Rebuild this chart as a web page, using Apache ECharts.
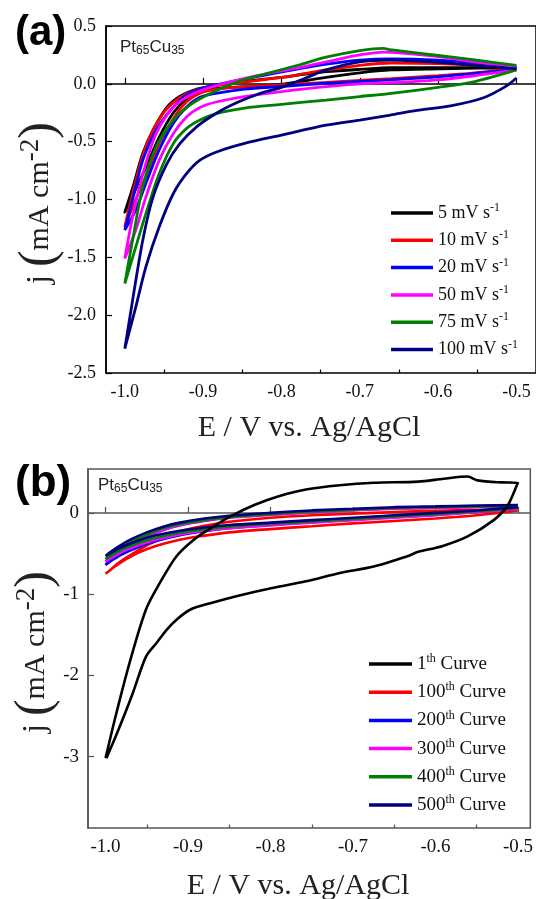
<!DOCTYPE html>
<html>
<head>
<meta charset="utf-8">
<script src="https://cdn.jsdelivr.net/npm/echarts@6/dist/echarts.min.js"></script>
<style>
body { margin: 0; background: #fff; overflow: hidden; }
#main { width: 536px; height: 899px; }
</style>
</head>
<body>
<div id="main"></div>
<script>
// (a) scan rates, (b) cycle numbers
var rateNames = ['5', '10', '20', '50', '75', '100'];
var cycleNums = ['1', '100', '200', '300', '400', '500'];
var lineColors = ['#000000', '#ff0000', '#0000ff', '#ff00ff', '#008000', '#000080'];

var xLabelsMajor = [-1.0, -0.9, -0.8, -0.7, -0.6, -0.5];
var xTicksMinor = [-0.95, -0.85, -0.75, -0.65, -0.55];
var yLabelsB = [-3, -2, -1, 0];

// (a) CV loops, [E, j]: cathodic branch -0.5 -> -1.0, then anodic back
var a5 = [[-0.50,0.135],[-0.55,0.135],[-0.60,0.13],[-0.66,0.12],[-0.70,0.095],[-0.743,0.055],[-0.78,0.015],[-0.80,-0.005],[-0.847,-0.025],[-0.882,-0.04],[-0.904,-0.07],[-0.921,-0.13],[-0.938,-0.25],[-0.956,-0.46],[-0.973,-0.72],[-0.986,-0.91],[-1.0,-1.11],
  [-0.99,-0.90],[-0.977,-0.60],[-0.964,-0.40],[-0.947,-0.21],[-0.93,-0.11],[-0.908,-0.045],[-0.882,-0.01],[-0.856,0.015],[-0.83,0.035],[-0.80,0.055],[-0.769,0.085],[-0.743,0.105],[-0.70,0.125],[-0.66,0.14],[-0.60,0.14],[-0.553,0.14],[-0.50,0.135]];
var a10 = [[-0.50,0.135],[-0.553,0.095],[-0.60,0.07],[-0.66,0.045],[-0.70,0.03],[-0.743,0.012],[-0.80,-0.01],[-0.847,-0.025],[-0.882,-0.045],[-0.904,-0.08],[-0.921,-0.155],[-0.938,-0.30],[-0.956,-0.515],[-0.973,-0.80],[-0.986,-1.0],[-1.0,-1.236],
  [-0.99,-0.95],[-0.977,-0.62],[-0.964,-0.40],[-0.947,-0.22],[-0.93,-0.12],[-0.908,-0.05],[-0.882,-0.015],[-0.856,0.01],[-0.83,0.03],[-0.80,0.055],[-0.769,0.09],[-0.743,0.12],[-0.70,0.16],[-0.66,0.18],[-0.60,0.175],[-0.553,0.16],[-0.50,0.14]];
var a20 = [[-0.50,0.125],[-0.553,0.09],[-0.60,0.06],[-0.66,0.035],[-0.70,0.02],[-0.743,0.005],[-0.80,-0.023],[-0.847,-0.045],[-0.882,-0.08],[-0.904,-0.117],[-0.921,-0.2],[-0.938,-0.34],[-0.956,-0.57],[-0.973,-0.86],[-0.986,-1.09],[-1.0,-1.265],
  [-0.99,-1.0],[-0.977,-0.66],[-0.960,-0.40],[-0.938,-0.20],[-0.917,-0.08],[-0.891,-0.02],[-0.856,0.03],[-0.821,0.075],[-0.778,0.13],[-0.743,0.17],[-0.70,0.205],[-0.661,0.215],[-0.60,0.205],[-0.553,0.18],[-0.50,0.14]];
var a50 = [[-0.50,0.12],[-0.553,0.07],[-0.60,0.035],[-0.66,0.01],[-0.70,0.0],[-0.743,-0.025],[-0.80,-0.068],[-0.847,-0.11],[-0.882,-0.155],[-0.904,-0.204],[-0.921,-0.285],[-0.938,-0.43],[-0.956,-0.66],[-0.973,-0.977],[-0.986,-1.265],[-1.0,-1.51],
  [-0.99,-1.15],[-0.977,-0.78],[-0.960,-0.43],[-0.938,-0.2],[-0.917,-0.1],[-0.891,-0.03],[-0.856,0.033],[-0.821,0.085],[-0.778,0.14],[-0.743,0.19],[-0.70,0.25],[-0.67,0.275],[-0.60,0.235],[-0.553,0.19],[-0.50,0.15]];
var a75 = [[-0.50,0.12],[-0.553,0.02],[-0.60,-0.03],[-0.66,-0.083],[-0.70,-0.11],[-0.743,-0.14],[-0.80,-0.178],[-0.847,-0.21],[-0.882,-0.256],[-0.904,-0.313],[-0.921,-0.385],[-0.938,-0.515],[-0.956,-0.775],[-0.973,-1.12],[-0.986,-1.41],[-1.0,-1.727],
  [-0.99,-1.35],[-0.977,-0.89],[-0.960,-0.544],[-0.938,-0.313],[-0.917,-0.184],[-0.891,-0.083],[-0.856,0.018],[-0.821,0.085],[-0.778,0.163],[-0.743,0.23],[-0.70,0.287],[-0.67,0.307],[-0.661,0.295],[-0.60,0.245],[-0.553,0.206],[-0.50,0.16]];
var a100 = [[-0.50,0.05],[-0.513,-0.02],[-0.542,-0.12],[-0.584,-0.19],[-0.627,-0.23],[-0.661,-0.27],[-0.70,-0.313],[-0.743,-0.357],[-0.80,-0.443],[-0.847,-0.515],[-0.882,-0.587],[-0.904,-0.66],[-0.921,-0.775],[-0.938,-0.948],[-0.956,-1.236],[-0.973,-1.58],[-0.986,-1.93],[-1.0,-2.29],
  [-0.99,-1.87],[-0.977,-1.35],[-0.964,-0.98],[-0.947,-0.70],[-0.93,-0.52],[-0.908,-0.37],[-0.882,-0.25],[-0.856,-0.16],[-0.83,-0.09],[-0.80,-0.03],[-0.769,0.05],[-0.743,0.12],[-0.70,0.19],[-0.661,0.205],[-0.60,0.185],[-0.553,0.16],[-0.50,0.13]];

// (b) cycling loops
var b1 = [[-1.0,-3.02],[-0.988,-2.51],[-0.971,-1.85],[-0.951,-1.19],[-0.934,-0.86],[-0.914,-0.534],[-0.893,-0.33],[-0.872,-0.185],[-0.848,-0.04],[-0.819,0.10],[-0.79,0.205],[-0.757,0.288],[-0.716,0.34],[-0.675,0.37],[-0.621,0.385],[-0.59,0.42],[-0.561,0.447],[-0.549,0.40],[-0.52,0.375],[-0.50,0.37],
  [-0.503,0.30],[-0.508,0.18],[-0.513,0.08],[-0.529,-0.086],[-0.561,-0.29],[-0.592,-0.41],[-0.621,-0.48],[-0.633,-0.53],[-0.675,-0.66],[-0.716,-0.74],[-0.757,-0.843],[-0.798,-0.925],[-0.839,-1.02],[-0.872,-1.11],[-0.897,-1.19],[-0.914,-1.315],[-0.926,-1.44],[-0.938,-1.60],[-0.951,-1.77],[-0.967,-2.22],[-0.986,-2.71],[-0.999,-3.02]];
var b100 = [[-0.5,0.03],[-0.55,-0.03],[-0.6,-0.07],[-0.65,-0.10],[-0.7,-0.13],[-0.75,-0.165],[-0.8,-0.20],[-0.85,-0.24],[-0.88,-0.28],[-0.91,-0.33],[-0.94,-0.41],[-0.96,-0.49],[-0.98,-0.60],[-0.99,-0.67],[-1.0,-0.75],
  [-0.995,-0.71],[-0.985,-0.62],[-0.97,-0.52],[-0.95,-0.40],[-0.93,-0.31],[-0.91,-0.23],[-0.88,-0.16],[-0.85,-0.11],[-0.80,-0.06],[-0.75,-0.03],[-0.70,-0.01],[-0.65,0.01],[-0.60,0.025],[-0.55,0.035],[-0.5,0.045]];
var b200 = [[-0.5,0.05],[-0.55,0.01],[-0.6,-0.025],[-0.65,-0.055],[-0.7,-0.085],[-0.75,-0.115],[-0.8,-0.15],[-0.85,-0.19],[-0.88,-0.225],[-0.91,-0.275],[-0.94,-0.35],[-0.96,-0.42],[-0.98,-0.51],[-0.99,-0.57],[-1.0,-0.64],
  [-0.995,-0.58],[-0.985,-0.50],[-0.97,-0.40],[-0.95,-0.29],[-0.93,-0.21],[-0.91,-0.15],[-0.88,-0.095],[-0.85,-0.055],[-0.80,-0.02],[-0.75,0.01],[-0.70,0.035],[-0.65,0.055],[-0.60,0.065],[-0.55,0.075],[-0.5,0.085]];
var b300 = [[-0.5,0.05],[-0.55,0.01],[-0.6,-0.03],[-0.65,-0.06],[-0.7,-0.09],[-0.75,-0.12],[-0.8,-0.155],[-0.85,-0.19],[-0.88,-0.22],[-0.91,-0.265],[-0.94,-0.335],[-0.96,-0.40],[-0.98,-0.48],[-0.99,-0.54],[-1.0,-0.60],
  [-0.995,-0.55],[-0.985,-0.48],[-0.97,-0.39],[-0.95,-0.29],[-0.93,-0.21],[-0.91,-0.155],[-0.88,-0.10],[-0.85,-0.06],[-0.80,-0.025],[-0.75,0.005],[-0.70,0.03],[-0.65,0.05],[-0.60,0.06],[-0.55,0.07],[-0.5,0.08]];
var b400 = [[-0.5,0.06],[-0.55,0.02],[-0.6,-0.015],[-0.65,-0.045],[-0.7,-0.075],[-0.75,-0.105],[-0.8,-0.135],[-0.85,-0.17],[-0.88,-0.20],[-0.91,-0.245],[-0.94,-0.31],[-0.96,-0.37],[-0.98,-0.45],[-0.99,-0.51],[-1.0,-0.57],
  [-0.995,-0.52],[-0.985,-0.45],[-0.97,-0.36],[-0.95,-0.27],[-0.93,-0.19],[-0.91,-0.14],[-0.88,-0.09],[-0.85,-0.05],[-0.80,-0.015],[-0.75,0.015],[-0.70,0.04],[-0.65,0.06],[-0.60,0.07],[-0.55,0.08],[-0.5,0.085]];
var b500 = [[-0.5,0.07],[-0.55,0.03],[-0.6,0.0],[-0.65,-0.03],[-0.7,-0.06],[-0.75,-0.09],[-0.8,-0.12],[-0.85,-0.15],[-0.88,-0.18],[-0.91,-0.22],[-0.94,-0.28],[-0.96,-0.34],[-0.98,-0.42],[-0.99,-0.47],[-1.0,-0.53],
  [-0.995,-0.49],[-0.985,-0.42],[-0.97,-0.33],[-0.95,-0.24],[-0.93,-0.17],[-0.91,-0.12],[-0.88,-0.07],[-0.85,-0.035],[-0.80,0.0],[-0.75,0.03],[-0.70,0.05],[-0.65,0.07],[-0.60,0.08],[-0.55,0.09],[-0.5,0.095]];

var dataA = [a5, a10, a20, a50, a75, a100];
var dataB = [b1, b100, b200, b300, b400, b500];

var serif = 'Liberation Serif';
var chart = echarts.init(document.getElementById('main'));

function fmt1(v) { return v.toFixed(1); }

var series = [];
var namesA = [], namesB = [];
for (var i = 0; i < rateNames.length; i++) {
  var nm = rateNames[i] + ' mV s-1';
  namesA.push(nm);
  series.push({
    name: nm, type: 'line', xAxisIndex: 0, yAxisIndex: 0,
    data: dataA[i], symbol: 'none', showSymbol: false, smooth: 0.3,
    lineStyle: { color: lineColors[i], width: 2.8 }, itemStyle: { color: lineColors[i] }
  });
}
for (var i = 0; i < cycleNums.length; i++) {
  var nm = cycleNums[i] + 'th Curve';
  namesB.push(nm);
  series.push({
    name: nm, type: 'line', xAxisIndex: 2, yAxisIndex: 1,
    data: dataB[i], symbol: 'none', showSymbol: false, smooth: 0.3, z: i == 0 ? 3 : 2,
    lineStyle: { color: lineColors[i], width: 2.6 }, itemStyle: { color: lineColors[i] }
  });
}

function xMain(grid, min, max, col, size) {
  return {
    gridIndex: grid, type: 'value', min: min, max: max, position: 'bottom',
    axisLine: { show: true, lineStyle: { color: col, width: 1.5 } },
    axisTick: { show: true, inside: true, length: 6, customValues: xLabelsMajor, lineStyle: { color: col, width: 1.2 } },
    axisLabel: { customValues: xLabelsMajor, formatter: fmt1, fontFamily: serif, fontSize: size, color: '#111', margin: 10 },
    splitLine: { show: false }
  };
}
function xMinor(grid, min, max, col) {
  return {
    gridIndex: grid, type: 'value', min: min, max: max, position: 'bottom',
    axisLine: { show: false },
    axisTick: { show: true, inside: true, length: 3.5, customValues: xTicksMinor, lineStyle: { color: col, width: 1.2 } },
    axisLabel: { show: false }, splitLine: { show: false }
  };
}

var legendRich = function (fs) {
  return {
    n: { fontFamily: serif, fontSize: fs, color: '#111', lineHeight: 22 },
    s: { fontFamily: serif, fontSize: Math.round(fs * 0.65), color: '#111', lineHeight: 12, padding: [0, 0, 10, 0] }
  };
};

var option = {
  animation: false,
  backgroundColor: '#fff',
  grid: [
    { left: 106, top: 26, width: 434, height: 347, show: true, borderColor: '#000', borderWidth: 1.5 },
    { left: 88, top: 469, width: 445, height: 359, show: true, borderColor: '#555', borderWidth: 1.5 }
  ],
  xAxis: [
    xMain(0, -1.024, -0.475, '#000', 18),
    xMinor(0, -1.024, -0.475, '#000'),
    xMain(1, -1.0213, -0.485, '#555', 19),
    xMinor(1, -1.0213, -0.485, '#555')
  ],
  yAxis: [
    {
      gridIndex: 0, type: 'value', min: -2.5, max: 0.5, interval: 0.5,
      axisLine: { show: true, lineStyle: { color: '#000', width: 1.5 } },
      axisTick: { show: true, inside: true, length: 6, lineStyle: { color: '#000', width: 1.2 } },
      axisLabel: { formatter: fmt1, fontFamily: serif, fontSize: 18, color: '#111', margin: 10 },
      splitLine: { show: false }
    },
    {
      gridIndex: 1, type: 'value', min: -3.88, max: 0.54,
      axisLine: { show: true, lineStyle: { color: '#555', width: 1.5 } },
      axisTick: { show: true, inside: true, length: 6, customValues: yLabelsB, lineStyle: { color: '#555', width: 1.2 } },
      axisLabel: { customValues: yLabelsB, formatter: function (v) { return String(v); }, fontFamily: serif, fontSize: 19, color: '#111', margin: 9 },
      splitLine: { show: false }
    }
  ],
  legend: [
    {
      data: namesA, orient: 'vertical', left: 386, top: 197, icon: 'rect', itemWidth: 42, itemHeight: 3.5, itemGap: 5.3,
      selectedMode: false,
      formatter: function (name) { return '{n|' + name.replace(' s-1', '') + ' s}{s|-1}'; },
      textStyle: { rich: legendRich(18) }
    },
    {
      data: namesB, orient: 'vertical', left: 364, top: 648, icon: 'rect', itemWidth: 43, itemHeight: 3.5, itemGap: 6.2,
      selectedMode: false,
      formatter: function (name) { return '{n|' + name.replace('th Curve', '') + '}{s|th}{n| Curve}'; },
      textStyle: { rich: legendRich(19) }
    }
  ],
  graphic: [
    { type: 'text', left: 15, top: 12, style: { text: '(a)', font: 'bold 42px "Liberation Sans"', fill: '#000' } },
    { type: 'text', left: 15, top: 462, style: { text: '(b)', font: 'bold 44px "Liberation Sans"', fill: '#000' } },
    { type: 'text', x: 120, y: 47, style: { text: '{a|Pt}{b|65}{a|Cu}{b|35}', verticalAlign: 'middle',
        rich: { a: { fontFamily: 'Liberation Sans', fontSize: 17, fill: '#222', lineHeight: 20 },
                b: { fontFamily: 'Liberation Sans', fontSize: 12, fill: '#222', lineHeight: 12, padding: [8, 0, 0, 0] } } } },
    { type: 'text', x: 98, y: 485, style: { text: '{a|Pt}{b|65}{a|Cu}{b|35}', verticalAlign: 'middle',
        rich: { a: { fontFamily: 'Liberation Sans', fontSize: 17, fill: '#222', lineHeight: 20 },
                b: { fontFamily: 'Liberation Sans', fontSize: 12, fill: '#222', lineHeight: 12, padding: [8, 0, 0, 0] } } } },
    { type: 'text', x: 309, y: 428, style: { text: 'E / V vs. Ag/AgCl', font: '30px "Liberation Serif"', fill: '#222', align: 'center', verticalAlign: 'middle' } },
    { type: 'text', x: 298, y: 886, style: { text: 'E / V vs. Ag/AgCl', font: '30px "Liberation Serif"', fill: '#222', align: 'center', verticalAlign: 'middle' } },
    { type: 'text', x: 40, y: 203, rotation: Math.PI / 2, style: { text: '{j|j }{p|(}{t|mA cm}{s|-2}{p|)}', align: 'center', verticalAlign: 'middle',
        rich: { j: { fontFamily: serif, fontSize: 32, fill: '#222', lineHeight: 50 },
                p: { fontFamily: serif, fontSize: 50, fill: '#222', lineHeight: 50 },
                t: { fontFamily: serif, fontSize: 30, fill: '#222', lineHeight: 50 },
                s: { fontFamily: serif, fontSize: 27, fill: '#222', lineHeight: 32, padding: [0, 0, 18, 0] } } } },
    { type: 'text', x: 36, y: 652, rotation: Math.PI / 2, style: { text: '{j|j }{p|(}{t|mA cm}{s|-2}{p|)}', align: 'center', verticalAlign: 'middle',
        rich: { j: { fontFamily: serif, fontSize: 32, fill: '#222', lineHeight: 50 },
                p: { fontFamily: serif, fontSize: 50, fill: '#222', lineHeight: 50 },
                t: { fontFamily: serif, fontSize: 30, fill: '#222', lineHeight: 50 },
                s: { fontFamily: serif, fontSize: 27, fill: '#222', lineHeight: 32, padding: [0, 0, 18, 0] } } } }
  ],
  series: series
};
chart.setOption(option);
</script>
</body>
</html>
